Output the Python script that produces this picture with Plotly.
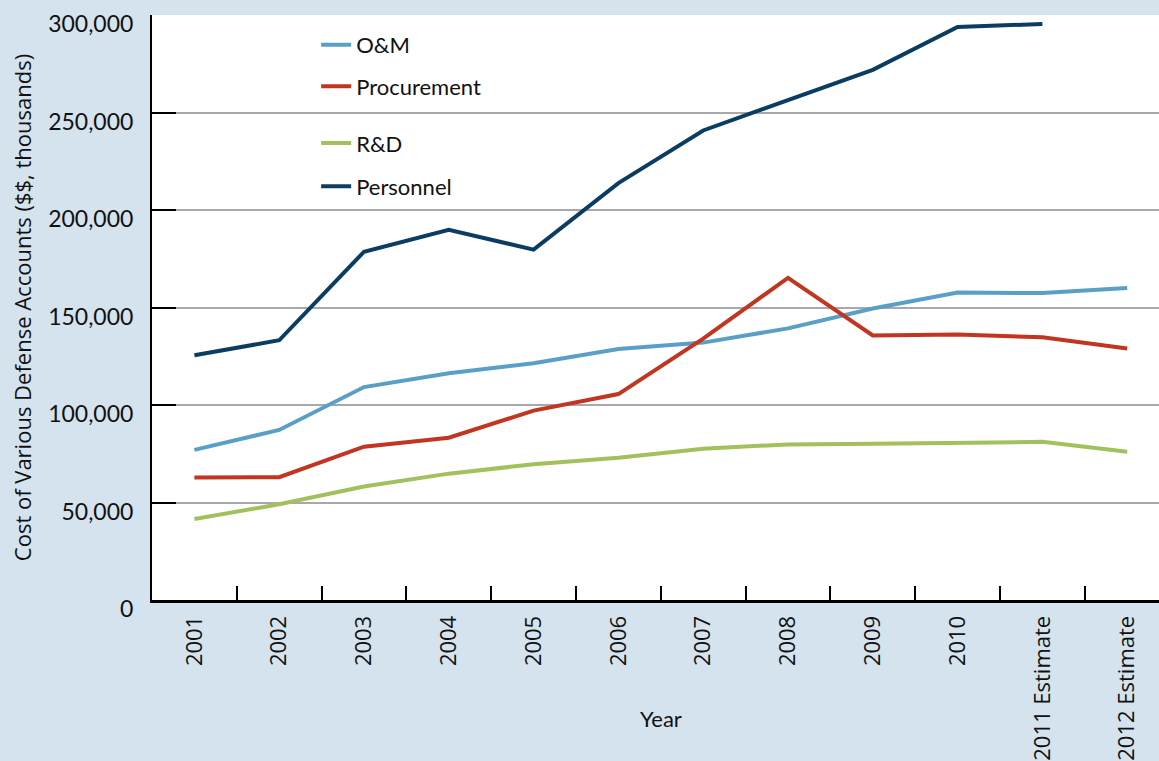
import plotly.graph_objects as go

years = ["2001", "2002", "2003", "2004", "2005", "2006", "2007", "2008",
         "2009", "2010", "2011 Estimate", "2012 Estimate"]

om = [77000, 87200, 109200, 116300, 121400, 128700, 132000, 139300,
      149500, 157700, 157400, 160000]
procurement = [62800, 63000, 78600, 83200, 97100, 105600, 134000, 165200,
               135700, 136200, 134700, 129000]
rnd = [41500, 49100, 58200, 64800, 69600, 73000, 77600, 79800,
       80100, 80400, 81100, 76000]
personnel = [125500, 133200, 178600, 189800, 179700, 213800, 240800, 256600,
             271900, 293900, 295400, None]

y_ticks = [0, 50000, 100000, 150000, 200000, 250000, 300000]

series = [
    ("O&M", om, "#5a9fc5", "legend"),
    ("Procurement", procurement, "#c23520", "legend2"),
    ("R&D", rnd, "#a1c15c", "legend3"),
    ("Personnel", personnel, "#0b3c62", "legend4"),
]

fig = go.Figure()
for name, vals, color, leg in series:
    fig.add_trace(go.Scatter(x=years, y=vals, name=name, mode="lines",
                             line=dict(color=color, width=4),
                             legend=leg, connectgaps=False))

bg = "#d5e3ee"
txt = "#111"
leg_font = dict(family="Lato, sans-serif", size=22, color=txt)
leg_x = 0.163
# four separate legends so the gap between the two pairs can be wider
legend_rows = {"legend": 0.949, "legend2": 0.878, "legend3": 0.781, "legend4": 0.707}
legends = {}
for key, yy in legend_rows.items():
    legends[key] = dict(x=leg_x, y=yy, xanchor="left", yanchor="middle",
                        bgcolor="rgba(0,0,0,0)", font=leg_font)

fig.update_layout(
    width=1159, height=761,
    paper_bgcolor=bg, plot_bgcolor="white",
    margin=dict(l=152, r=0, t=15, b=158),
    showlegend=True,
    **legends,
    xaxis=dict(
        type="category", range=[-0.5, 11.375],
        tickson="boundaries", ticks="inside", ticklen=14, tickwidth=2,
        tickcolor="black", showline=True, linecolor="black", linewidth=3,
        showgrid=False, tickangle=-90,
        tickfont=dict(family="Open Sans, sans-serif", size=22, color=txt),
        ticklabelstandoff=4,
    ),
    yaxis=dict(
        range=[0, 300000], tickvals=y_ticks, tickformat=",",
        ticks="inside", ticklen=24, tickwidth=2, tickcolor="black",
        showline=True, linecolor="black", linewidth=2,
        showgrid=True, gridcolor="#a9a9ad", gridwidth=2, zeroline=False,
        tickfont=dict(family="Lato, sans-serif", size=23, color=txt),
        ticklabelshift=9, ticklabelstandoff=12,
        title=dict(text="Cost of Various Defense Accounts ($$, thousands)",
                   standoff=10,
                   font=dict(family="Open Sans, sans-serif", size=22, color=txt)),
    ),
    annotations=[dict(text="Year", xref="paper", yref="paper",
                      x=0.5055, y=-0.2024, xanchor="center", yanchor="middle",
                      showarrow=False,
                      font=dict(family="Lato, sans-serif", size=22, color=txt))],
)

fig.write_html("out.html", config={"displayModeBar": False},
               post_script="document.body.style.margin='0';")
